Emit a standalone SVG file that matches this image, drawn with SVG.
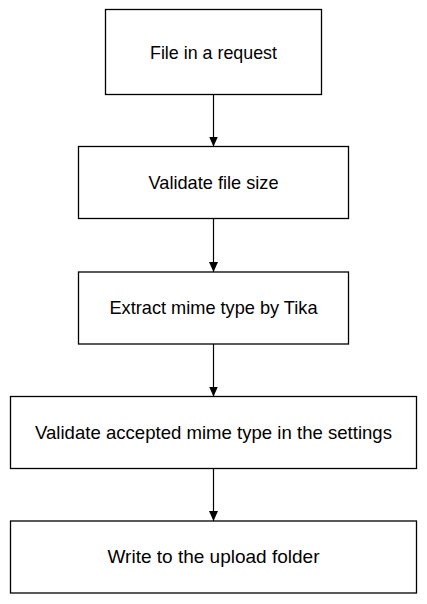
<svg xmlns="http://www.w3.org/2000/svg" width="427" height="604" viewBox="0 0 427 604">
<defs>
<style>
.box{fill:#fff;stroke:#000;stroke-width:1.3}
.lbl{font-family:"Liberation Sans",Arial,sans-serif;font-size:18.5px;fill:#000;text-anchor:middle}
.conn{stroke:#000;stroke-width:1.2;fill:none}
</style>
<marker id="ah" markerWidth="10" markerHeight="10" refX="10" refY="5" orient="auto" markerUnits="userSpaceOnUse">
<path d="M0,0.5 L10,5 L0,9.5 Z" fill="#000"/>
</marker>
</defs>
<rect width="427" height="604" fill="#fff"/>
<g id="connectors">
<line class="conn" x1="213.5" y1="95" x2="213.5" y2="146.5" marker-end="url(#ah)"/>
<line class="conn" x1="213.5" y1="218.5" x2="213.5" y2="272" marker-end="url(#ah)"/>
<line class="conn" x1="213.5" y1="344" x2="213.5" y2="396.5" marker-end="url(#ah)"/>
<line class="conn" x1="213.5" y1="468.5" x2="213.5" y2="521" marker-end="url(#ah)"/>
</g>
<g id="n1"><rect class="box" x="105.5" y="9.5" width="216" height="85"/><text class="lbl" x="213.5" y="59" textLength="127" lengthAdjust="spacingAndGlyphs">File in a request</text></g>
<g id="n2"><rect class="box" x="78.5" y="146.5" width="270" height="72"/><text class="lbl" x="213.5" y="189" textLength="130" lengthAdjust="spacingAndGlyphs">Validate file size</text></g>
<g id="n3"><rect class="box" x="78.5" y="272" width="270" height="72"/><text class="lbl" x="213.5" y="313.5" textLength="208" lengthAdjust="spacingAndGlyphs">Extract mime type by Tika</text></g>
<g id="n4"><rect class="box" x="10.5" y="396.5" width="406" height="72"/><text class="lbl" x="213.5" y="439" textLength="357" lengthAdjust="spacingAndGlyphs">Validate accepted mime type in the settings</text></g>
<g id="n5"><rect class="box" x="10.5" y="521" width="406" height="72"/><text class="lbl" x="213.5" y="563" textLength="212" lengthAdjust="spacingAndGlyphs">Write to the upload folder</text></g>
</svg>
